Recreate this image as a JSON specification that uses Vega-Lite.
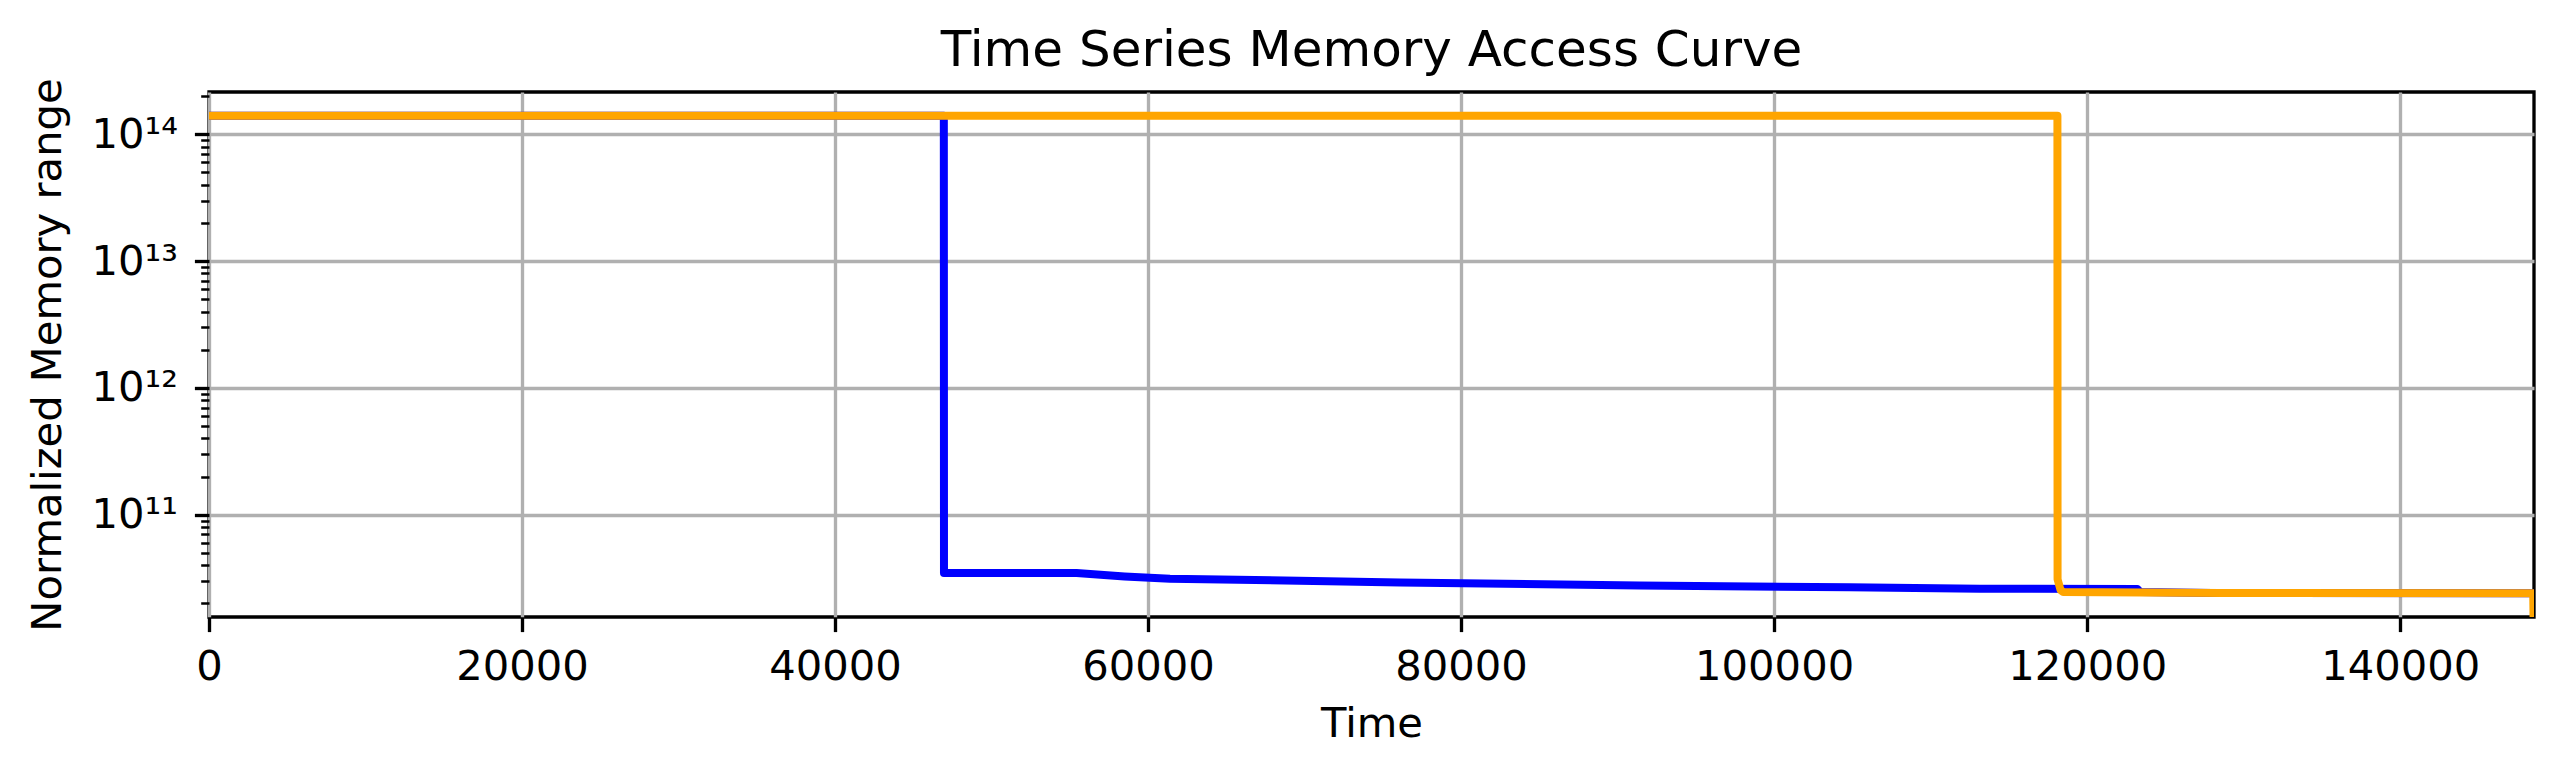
{
  "$schema": "https://vega.github.io/schema/vega-lite/v6.json",
  "width": 2325,
  "height": 525,
  "autosize": {"type": "none"},
  "padding": {"left": 209, "top": 92, "right": 29, "bottom": 160},
  "background": "white",
  "title": {
    "text": "Time Series Memory Access Curve",
    "font": "DejaVu Sans",
    "fontSize": 50,
    "fontWeight": "normal",
    "color": "black",
    "anchor": "middle",
    "frame": "group",
    "baseline": "bottom",
    "offset": 14,
    "dy": 62
  },
  "config": {
    "view": {"stroke": "black", "strokeWidth": 3.33},
    "axis": {
      "domain": false,
      "tickColor": "black",
      "tickWidth": 3.33,
      "tickSize": 14.6,
      "gridColor": "#b0b0b0",
      "gridWidth": 3.33,
      "gridOpacity": 1,
      "labelFont": "DejaVu Sans",
      "labelFontSize": 41.67,
      "labelColor": "black",
      "labelOverlap": false,
      "titleFont": "DejaVu Sans",
      "titleFontSize": 41.67,
      "titleFontWeight": "normal",
      "titleColor": "black"
    }
  },
  "data": {
    "values": [
      {"t": 0, "mem": 1.40e14, "series": "A"},
      {"t": 46950, "mem": 1.40e14, "series": "A"},
      {"t": 46960, "mem": 3.47e10, "series": "A"},
      {"t": 55430, "mem": 3.47e10, "series": "A"},
      {"t": 58500, "mem": 3.26e10, "series": "A"},
      {"t": 61400, "mem": 3.13e10, "series": "A"},
      {"t": 76100, "mem": 2.93e10, "series": "A"},
      {"t": 91400, "mem": 2.77e10, "series": "A"},
      {"t": 104800, "mem": 2.68e10, "series": "A"},
      {"t": 113150, "mem": 2.61e10, "series": "A"},
      {"t": 123200, "mem": 2.60e10, "series": "A"},
      {"t": 123400, "mem": 2.46e10, "series": "A"},
      {"t": 128000, "mem": 2.42e10, "series": "A"},
      {"t": 148450, "mem": 2.41e10, "series": "A"},
      {"t": 0, "mem": 1.40e14, "series": "B"},
      {"t": 118100, "mem": 1.40e14, "series": "B"},
      {"t": 118110, "mem": 3.1e10, "series": "B"},
      {"t": 118300, "mem": 2.55e10, "series": "B"},
      {"t": 118470, "mem": 2.46e10, "series": "B"},
      {"t": 128480, "mem": 2.42e10, "series": "B"},
      {"t": 148500, "mem": 2.41e10, "series": "B"},
      {"t": 148540, "mem": 1.0e10, "series": "B"}
    ]
  },
  "encoding": {
    "x": {
      "field": "t",
      "type": "quantitative",
      "scale": {"domain": [0, 148550], "nice": false, "zero": false},
      "axis": {
        "values": [0, 20000, 40000, 60000, 80000, 100000, 120000, 140000],
        "format": "d",
        "title": "Time",
        "labelFlush": false,
        "labelPadding": 15,
        "titlePadding": 15,
        "grid": true
      }
    }
  },
  "layer": [
    {
      "transform": [{"filter": "datum.series == 'A'"}],
      "mark": {"type": "line", "color": "#0000ff", "strokeWidth": 8, "clip": true, "strokeCap": "square", "strokeJoin": "round"},
      "encoding": {
        "y": {
          "field": "mem",
          "type": "quantitative",
          "scale": {"type": "log", "domain": [1.563e10, 2.153e14], "nice": false},
          "axis": {
            "orient": "left",
            "values": [1e11, 1e12, 1e13, 1e14],
            "labelExpr": "datum.value < 5e11 ? '10¹¹' : datum.value < 5e12 ? '10¹²' : datum.value < 5e13 ? '10¹³' : '10¹⁴'",
            "title": "Normalized Memory range",
            "labelPadding": 17,
            "titlePadding": 21,
            "grid": true
          }
        }
      }
    },
    {
      "transform": [{"filter": "datum.series == 'B'"}],
      "mark": {"type": "line", "color": "#ffa500", "strokeWidth": 8, "clip": true, "strokeCap": "square", "strokeJoin": "round"},
      "encoding": {
        "y": {
          "field": "mem",
          "type": "quantitative",
          "scale": {"type": "log", "domain": [1.563e10, 2.153e14], "nice": false},
          "axis": {
            "orient": "left",
            "values": [2e10, 3e10, 4e10, 5e10, 6e10, 7e10, 8e10, 9e10, 2e11, 3e11, 4e11, 5e11, 6e11, 7e11, 8e11, 9e11, 2e12, 3e12, 4e12, 5e12, 6e12, 7e12, 8e12, 9e12, 2e13, 3e13, 4e13, 5e13, 6e13, 7e13, 8e13, 9e13, 2e14],
            "labels": false,
            "grid": false,
            "title": null,
            "tickSize": 8.3,
            "tickWidth": 2.5
          }
        }
      }
    }
  ],
  "resolve": {"axis": {"y": "independent"}}
}
